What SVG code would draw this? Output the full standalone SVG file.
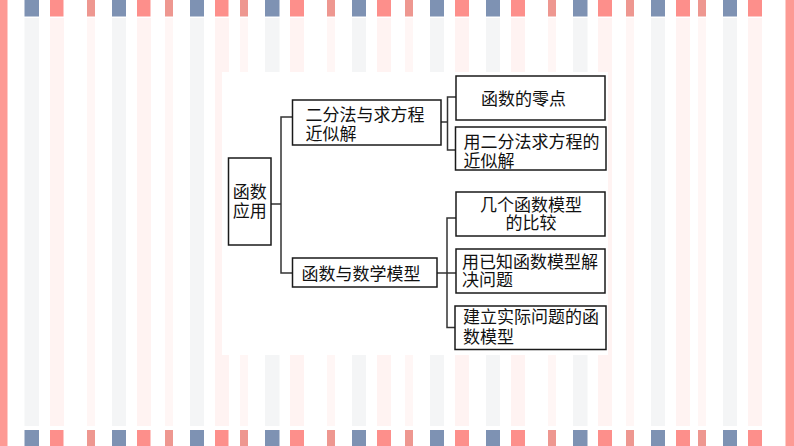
<svg xmlns="http://www.w3.org/2000/svg" width="794" height="446" viewBox="0 0 794 446">
<style>
.b{fill:#7e92b3}.p{fill:#fd8f8b}.n{fill:#ee9790}.e{fill:#fd9a94}
.pb{fill:#f4f5f6}.pp{fill:#fff3f2}.pn{fill:#fff6f5}
.box{fill:#fff;stroke:#1a1a1a;stroke-width:1.5}
.t{font-family:"Noto Sans CJK SC",serif;font-size:17px;fill:#111}
.m{text-anchor:middle}
#connectors path{fill:none;stroke:#333;stroke-width:1.5}
</style>
<defs>
<g id="col">
<rect class="pb" x="24.5" width="14.5" height="408"/><rect class="pp" x="50" width="14" height="408"/><rect class="pn" x="87" width="8" height="408"/>
<rect class="pb" x="112" width="14" height="408"/><rect class="pp" x="137" width="14" height="408"/><rect class="pn" x="165" width="8" height="408"/>
<rect class="pb" x="190" width="14" height="408"/><rect class="pp" x="215" width="14" height="408"/><rect class="pn" x="240" width="8" height="408"/>
<rect class="pb" x="265" width="14.5" height="408"/><rect class="pp" x="290" width="14" height="408"/><rect class="pn" x="327" width="8" height="408"/>
<rect class="pb" x="352" width="14" height="408"/><rect class="pp" x="377" width="14" height="408"/><rect class="pn" x="405" width="8" height="408"/>
<rect class="pb" x="430" width="14" height="408"/><rect class="pp" x="455" width="14" height="408"/><rect class="pb" x="486" width="14" height="408"/>
<rect class="pp" x="511" width="14" height="408"/><rect class="pn" x="548" width="8" height="408"/><rect class="pb" x="573" width="14.5" height="408"/>
<rect class="pp" x="598" width="14" height="408"/><rect class="pn" x="626" width="8" height="408"/><rect class="pb" x="651" width="14" height="408"/>
<rect class="pp" x="676" width="14" height="408"/><rect class="pn" x="698" width="8" height="408"/><rect class="pb" x="723" width="14" height="408"/>
<rect class="pp" x="748" width="14" height="408"/>
</g>
<g id="blocks">
<rect class="b" x="24.5" width="14.5" height="16.5"/><rect class="p" x="50" width="13.5" height="16.5"/><rect class="n" x="87" width="8" height="16.5"/>
<rect class="b" x="112" width="14" height="16.5"/><rect class="p" x="137" width="13.5" height="16.5"/><rect class="n" x="165" width="8" height="16.5"/>
<rect class="b" x="190" width="14" height="16.5"/><rect class="p" x="215" width="13.5" height="16.5"/><rect class="n" x="240" width="8" height="16.5"/>
<rect class="b" x="265" width="14.5" height="16.5"/><rect class="p" x="290" width="14" height="16.5"/><rect class="n" x="327" width="8" height="16.5"/>
<rect class="b" x="352" width="14" height="16.5"/><rect class="p" x="377" width="14" height="16.5"/><rect class="n" x="405" width="8" height="16.5"/>
<rect class="b" x="430" width="14" height="16.5"/><rect class="p" x="455" width="14" height="16.5"/><rect class="b" x="486" width="14" height="16.5"/>
<rect class="p" x="511" width="14" height="16.5"/><rect class="n" x="548" width="8" height="16.5"/><rect class="b" x="573" width="14.5" height="16.5"/>
<rect class="p" x="598" width="14" height="16.5"/><rect class="n" x="626" width="8" height="16.5"/><rect class="b" x="651" width="14" height="16.5"/>
<rect class="p" x="676" width="14" height="16.5"/><rect class="n" x="698" width="8" height="16.5"/><rect class="b" x="723" width="14" height="16.5"/>
<rect class="p" x="748" width="14" height="16.5"/>
</g>
</defs>
<rect width="794" height="446" fill="#fff"/>
<use href="#col" y="18"/>
<use href="#blocks" y="0"/>
<use href="#blocks" y="430"/>
<rect class="e" x="0" width="7.5" height="446"/>
<rect class="e" x="785.5" width="8.5" height="446"/>
<rect x="222" y="72" width="386" height="283" fill="#fff"/>
<g id="connectors">
<path d="M271 204H281M292.5 117H281V273H292.5"/>
<path d="M441 122H447.5M456 97H447.5V150H456"/>
<path d="M437 273H456M456 218H447V327.500H456"/>
</g>
<g id="root"><rect class="box" x="228.500" y="158" width="42.500" height="87"/><text class="t m" x="249.700" y="198">函数</text><text class="t m" x="249.700" y="217">应用</text></g>
<g id="n-bisection"><rect class="box" x="292.500" y="100" width="148.500" height="45"/><text class="t" x="305.500" y="121">二分法与求方程</text><text class="t" x="305.500" y="140">近似解</text></g>
<g id="n-model"><rect class="box" x="292.500" y="258" width="144.500" height="29"/><text class="t" x="301.500" y="280">函数与数学模型</text></g>
<g id="n-zero"><rect class="box" x="456" y="76" width="149" height="44"/><text class="t" x="481" y="105">函数的零点</text></g>
<g id="n-solve"><rect class="box" x="455.500" y="127" width="150.500" height="43"/><text class="t" x="463.500" y="148">用二分法求方程的</text><text class="t" x="463.500" y="167">近似解</text></g>
<g id="n-compare"><rect class="box" x="456" y="192" width="149" height="44"/><text class="t m" x="531" y="211">几个函数模型</text><text class="t m" x="531" y="229">的比较</text></g>
<g id="n-known"><rect class="box" x="456" y="249" width="149" height="44"/><text class="t" x="462" y="268">用已知函数模型解</text><text class="t" x="462" y="286">决问题</text></g>
<g id="n-build"><rect class="box" x="455" y="306" width="151" height="43.500"/><text class="t" x="463" y="323">建立实际问题的函</text><text class="t" x="463" y="343">数模型</text></g>
</svg>
